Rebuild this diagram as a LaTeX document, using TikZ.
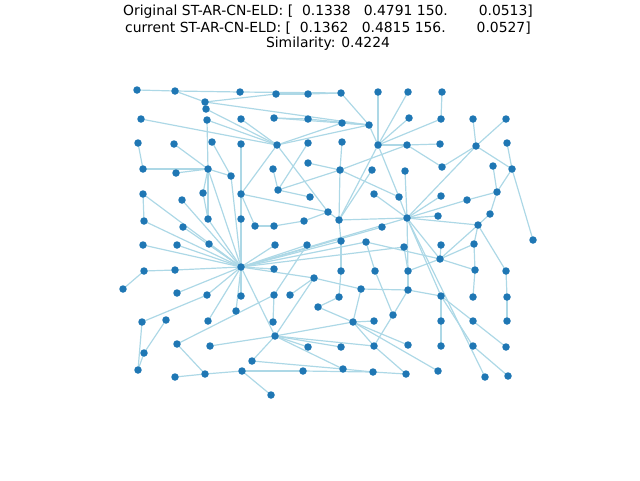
\documentclass[tikz,border=0pt]{standalone}
\usepackage{fontspec}
\setmainfont{DejaVu Sans}
\usetikzlibrary{backgrounds}
\definecolor{nodeblue}{HTML}{1F77B4}
\definecolor{edgeblue}{HTML}{ADD8E6}
\begin{document}
\begin{tikzpicture}[x=1pt,y=-1pt,
  v/.style={circle,fill=nodeblue,inner sep=0pt,minimum size=7.5pt},
  e/.style={draw=edgeblue,line width=1.2pt},
  ttl/.style={font=\fontsize{13.9}{16}\selectfont,inner sep=0pt,anchor=center}]
\useasboundingbox (0,0) rectangle (640,480);
\node[ttl] (t1) at (328,12) {Original ST-AR-CN-ELD: [\ \ 0.1338\ \ \ 0.4791 150.\ \ \ \ \ \ \ 0.0513]};
\node[ttl] (t2) at (328,28) {current ST-AR-CN-ELD: [\ \ 0.1362\ \ \ 0.4815 156.\ \ \ \ \ \ \ 0.0527]};
\node[ttl] (t3) at (328,44) {Similarity: 0.4224};
\foreach \n/\x/\y in {a1/137/90, a2/175/91, a3/240/92, a4/276/94, a5/308/94, a6/341/93, a7/378/92, a8/408/92, a9/442/92,
b1/205/102, b2/206/109,
c1/141/119, c2/207/120, c3/241/119, c4/274/118, c5/308/119, c6/342/123, c7/369/125, c8/409/118, c9/441/119, c10/473/119, c11/506/119,
d1/138/143, d2/174/144, d3/212/142, d4/241/144, d5/277/145, d6/308/143, d7/342/142, d8/378/145, d9/407/145, d10/440/144, d11/476/146, d12/507/143,
e1/143/169, e2/176/173, e3/208/169, e4/231/176, e5/273/169, e6/308/163, e7/340/170, e8/372/170, e9/405/171, e10/442/167, e11/493/166, e12/512/169,
f1/143/194, f2/182/200, f3/203/193, f4/241/194, f5/278/190, f6/310/197, f7/374/194, f8/399/197, f9/441/196, f10/467/200, f11/497/192,
g1/144/221, g2/183/227, g3/208/219, g4/241/219, g5/255/226, g6/274/226, g7/304/221, g8/328/212, g9/339/220, g10/382/227, g11/407/218, g12/438/216, g13/478/225, g14/490/214, g15/533/240,
h1/143/245, h2/177/245, h3/209/244, h4/275/245, h5/307/245, h6/341/241, h7/366/242, h8/404/247, h9/441/245, h10/474/244, h11/440/259,
i1/144/271, i2/175/270, i3/241/267, i4/274/269, i5/314/278, i6/341/271, i7/375/271, i8/408/271, i9/475/270, i10/506/271, i11/123/289,
j1/177/293, j2/207/295, j3/241/296, j4/274/295, j5/290/295, j6/361/289, j7/408/290, j8/339/297, j9/441/296, j10/473/297, j11/507/297, j12/318/307, j13/236/311,
k1/142/322, k2/166/320, k3/208/321, k4/273/322, k5/393/315, k6/353/322, k7/374/321, k8/441/321, k9/473/321, k10/507/321,
l1/177/344, l2/210/346, l3/275/336, l4/308/347, l5/341/347, l6/374/346, l7/408/345, l8/441/346, l9/473/346, l10/506/347, l11/144/353,
m1/138/370, m2/252/361, m3/175/377, m4/205/374, m5/242/371, m6/303/371, m7/343/369, m8/373/372, m9/406/374, m10/438/371, m11/485/377, m12/508/376, m13/271/395}
  \node[v] (\n) at (\x,\y) {};
\begin{pgfonlayer}{background}
\foreach \a/\b in {a1/a2, a2/a3, a3/a6, a2/b1, b1/a4, a4/a5, a5/a6, b1/c7, b2/d5, c1/d5, c2/d5, c3/d5, c2/e3, c4/c5, c4/c7, c5/c7, c6/c7, d5/c6, d5/c7, c7/a6, c7/d8, d8/a7, d8/a8, d8/c8, d8/c9, c9/a9, d8/d9, d9/d10, d9/e10, e10/d11, d11/c10, d11/c11, d11/e12, e12/d12, e12/f11, e11/f11, e12/g15, f11/f10, f10/g11, f11/g14, g14/g13, d11/g11, e9/g11, d8/g9, d8/f8, e7/d9, d5/f4, d5/g8, d6/f5, e5/f5, f5/f6, e6/e7, e7/g9, e7/f8, e7/f5, d7/e7, d1/e1, f1/g1, e1/e3, e2/e3, d2/e3, e3/f3, f3/g3, e3/g3, e3/e4, d3/e4, d4/f4, f4/g4, g4/i3, f4/g5, f4/g8, e4/i3, e3/i3, f1/i3, g1/i3, f2/i3, g2/i3, g3/i3, h1/i3, h2/i3, h3/i3, i1/i2, i2/i3, i11/i1, j1/i3, j2/i3, j3/i3, k3/i3, j13/i3, g5/g6, g6/g7, g7/g8, g8/g9, g9/g11, g9/h6, h6/i6, i6/j8, e8/g9, f7/g11, f8/g11, f9/g11, g12/g11, g13/g11, h11/g11, j9/g11, m11/g11, i8/g11, i3/h4, i3/h5, i3/h6, i3/g10, i3/h7, i3/g11, i3/h8, i3/i4, i3/i5, i3/l3, j4/k4, j4/h5, l1/j4, j5/i5, l3/i5, l3/k6, l3/l2, l3/l4, l3/l5, l3/l6, l3/m7, l3/m2, m2/m7, l1/m4, m4/m3, m4/m5, m5/m6, m5/m13, m6/m8, m7/m8, m8/m9, l6/m9, k1/j2, k1/m1, k2/l11, l11/m1, g13/h10, h10/i9, i9/j10, g13/i10, i10/j11, j11/k10, g13/h11, h11/h10, h11/i9, h11/h7, h11/i8, h11/h9, h8/i8, i8/j7, j6/j7, j7/j9, j7/k5, k5/l6, h7/i7, i7/k5, i5/j6, j6/k6, j8/j12, j12/k6, k6/k7, k6/l6, k6/l7, k6/m10, j9/k8, k8/l8, j9/k9, k9/l10, j9/l9, l9/m12}
  \draw[e] (\a.center) -- (\b.center);
\end{pgfonlayer}
\end{tikzpicture}
\end{document}
